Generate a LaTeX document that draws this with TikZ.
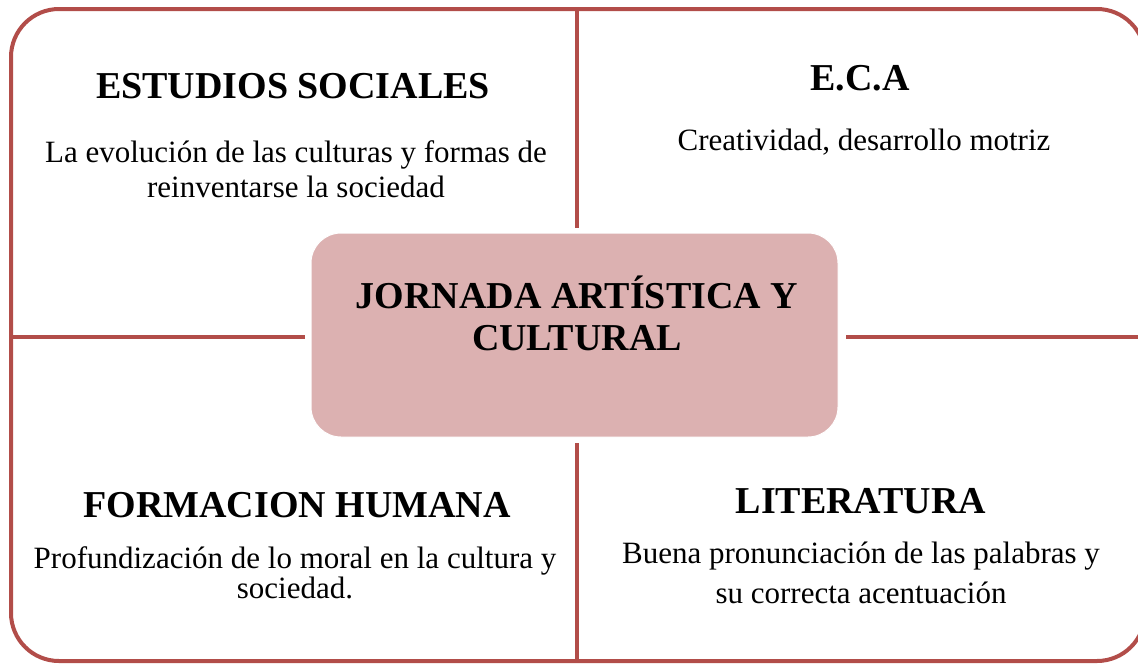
\documentclass[tikz,border=0pt]{standalone}
\usepackage{fontspec}
\setmainfont{Liberation Serif}
\usetikzlibrary{positioning}
\definecolor{frameRed}{RGB}{178,77,73}
\definecolor{hubPink}{RGB}{220,177,177}
\tikzset{frame/.style={draw=frameRed,line width=4pt,rounded corners=48pt}}
\tikzset{bar/.style={draw=frameRed,line width=4pt}}
\tikzset{hub/.style={rectangle,rounded corners=30pt,fill=hubPink,draw=white,line width=1pt,minimum width=527pt,minimum height=204pt,inner sep=0pt}}
\tikzset{head/.style={anchor=base,inner sep=0pt,font=\bfseries\fontsize{38}{44}\selectfont}}
\tikzset{txt/.style={anchor=base,inner sep=0pt,align=center}}

\begin{document}
\begin{tikzpicture}[x=1pt,y=-1pt]
        \useasboundingbox (0,0) rectangle (1138,665);
        \clip (0,0) rectangle (1138,665);
        \draw[frame] (11,9) rectangle (1145,661);
        \node(hub)[hub] at (574.5,335){};
        \coordinate(topMid) at (577,9);
        \coordinate(botMid) at (577,661);
        \coordinate(leftMid) at (11,337);
        \coordinate(rightMid) at (1145,337);
        \draw[bar]
        (topMid) edge[shorten >=5pt] (hub.north -| topMid)
        (botMid) edge[shorten >=5pt] (hub.south -| botMid)
        (leftMid) edge[shorten >=6pt] (hub.west |- leftMid)
        (rightMid) edge[shorten >=7pt] (hub.east |- rightMid);
        % base of a two-line node = baseline of its last line
        \node(hubTxt)[txt,font=\bfseries\fontsize{38}{42}\selectfont] at (577,350){JORNADA ARTÍSTICA Y\\CULTURAL};
        % quadrants
        \node(ssHead)[head] at (293,98){ESTUDIOS SOCIALES};
        \node(ssText)[txt,font=\fontsize{31}{35}\selectfont] at (296,197){La evolución de las culturas y formas de\\reinventarse la sociedad};
        \node(ecaHead)[head] at (860,90){E.C.A};
        \node(ecaText)[txt,font=\fontsize{31}{35}\selectfont] at (864,150){Creatividad, desarrollo motriz};
        \node(fhHead)[head] at (297,517){FORMACION HUMANA};
        \node(fhText)[txt,font=\fontsize{31}{30}\selectfont] at (295,598){Profundización de lo moral en la cultura y\\sociedad.};
        \node(litHead)[head] at (861,513){LITERATURA};
        \node(litText)[txt,font=\fontsize{31}{40}\selectfont] at (861,603){Buena pronunciación de las palabras y\\su correcta acentuación};
      \end{tikzpicture}
\end{document}
